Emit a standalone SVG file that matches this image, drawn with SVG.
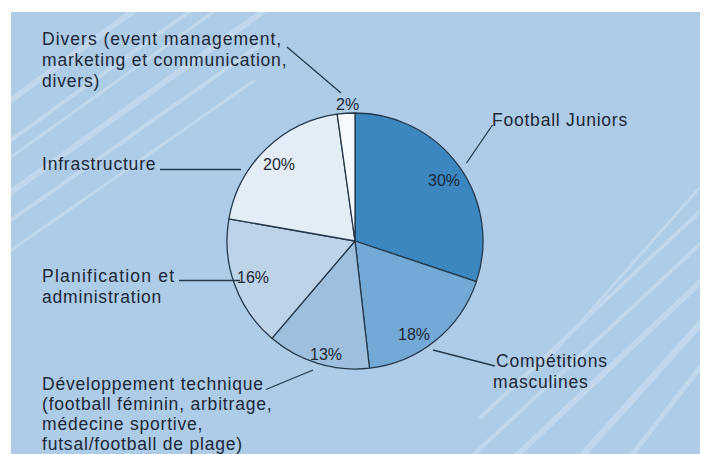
<svg xmlns="http://www.w3.org/2000/svg" width="705" height="454" viewBox="0 0 705 454">
  <style>
    .lbl { font-family: "Liberation Sans", Arial, sans-serif; font-size: 17.5px; fill: #1b2838; letter-spacing: 0.8px; }
    .pct { font-family: "Liberation Sans", Arial, sans-serif; font-size: 16px; fill: #1b2838; }
    .slice { stroke: #25384b; stroke-width: 1.3; stroke-linejoin: round; }
    .lead { stroke: #25384b; stroke-width: 1.3; fill: none; }
    .stripe { stroke: #c6dbef; fill: none; stroke-linecap: butt; }
  </style>
  <defs>
    <clipPath id="panel">
      <rect x="11" y="12" width="689" height="442"/>
    </clipPath>
  </defs>
  <rect x="0" y="0" width="705" height="454" fill="#ffffff"/>
  <g id="background">
    <rect x="11" y="12" width="689" height="442" fill="#aecbe7"/>
    <g clip-path="url(#panel)" opacity="0.75">
      <line class="stripe" x1="0" y1="108" x2="140" y2="6" stroke-width="6"/>
      <line class="stripe" x1="0" y1="148" x2="200" y2="4" stroke-width="4"/>
      <line class="stripe" x1="0" y1="165" x2="230" y2="0" stroke-width="3"/>
      <line class="stripe" x1="0" y1="200" x2="265" y2="10" stroke-width="6"/>
      <line class="stripe" x1="0" y1="228" x2="260" y2="45" stroke-width="4"/>
      <line class="stripe" x1="0" y1="258" x2="255" y2="80" stroke-width="3"/>
      <line class="stripe" x1="540" y1="368" x2="710" y2="176" stroke-width="3"/>
      <line class="stripe" x1="480" y1="418" x2="710" y2="202" stroke-width="4"/>
      <line class="stripe" x1="470" y1="458" x2="710" y2="235" stroke-width="4"/>
      <line class="stripe" x1="512" y1="460" x2="710" y2="273" stroke-width="6"/>
      <line class="stripe" x1="578" y1="460" x2="710" y2="313" stroke-width="7"/>
      <line class="stripe" x1="628" y1="460" x2="710" y2="355" stroke-width="5"/>
    </g>
  </g>
  <g id="pie">
    <g id="slice-football-juniors">
      <path class="slice" fill="#3d87c1" d="M355,241 L355,113 A128,128 0 0 1 476.4,281.6 Z"/>
      <text class="pct" x="428" y="186">30%</text>
    </g>
    <g id="slice-competitions">
      <path class="slice" fill="#73a9d4" d="M355,241 L476.4,281.6 A128,128 0 0 1 369.5,368.2 Z"/>
      <text class="pct" x="398" y="340">18%</text>
    </g>
    <g id="slice-developpement">
      <path class="slice" fill="#9ec0de" d="M355,241 L369.5,368.2 A128,128 0 0 1 271.9,338.3 Z"/>
      <text class="pct" x="310" y="360">13%</text>
    </g>
    <g id="slice-planification">
      <path class="slice" fill="#bdd3e8" d="M355,241 L271.9,338.3 A128,128 0 0 1 228.9,218.8 Z"/>
      <text class="pct" x="237" y="283">16%</text>
    </g>
    <g id="slice-infrastructure">
      <path class="slice" fill="#e3edf6" d="M355,241 L228.9,218.8 A128,128 0 0 1 337.2,114.2 Z"/>
      <text class="pct" x="263" y="170">20%</text>
    </g>
    <g id="slice-divers">
      <path class="slice" fill="#f7fafd" d="M355,241 L337.2,114.2 A128,128 0 0 1 355,113 Z"/>
      <text class="pct" x="336" y="110">2%</text>
    </g>
  </g>
  <g id="connectors">
    <line class="lead" x1="287" y1="47" x2="341" y2="93"/>
    <line class="lead" x1="160" y1="169.5" x2="241" y2="169.5"/>
    <line class="lead" x1="492.5" y1="125" x2="466.5" y2="163"/>
    <line class="lead" x1="179" y1="280.5" x2="240" y2="280.5"/>
    <line class="lead" x1="266" y1="389.5" x2="313" y2="370"/>
    <line class="lead" x1="433" y1="350" x2="495" y2="366"/>
  </g>
  <g id="label-divers">
    <text class="lbl" x="42" y="45" textLength="240" lengthAdjust="spacing">Divers (event management,</text>
    <text class="lbl" x="42" y="65.5">marketing et communication,</text>
    <text class="lbl" x="42" y="86.5">divers)</text>
  </g>
  <g id="label-infrastructure">
    <text class="lbl" x="42" y="170">Infrastructure</text>
  </g>
  <g id="label-planification">
    <text class="lbl" x="42" y="282" textLength="133" lengthAdjust="spacing">Planification et</text>
    <text class="lbl" x="42" y="302.5">administration</text>
  </g>
  <g id="label-developpement">
    <text class="lbl" x="42" y="389.5">Développement technique</text>
    <text class="lbl" x="42" y="409.5">(football féminin, arbitrage,</text>
    <text class="lbl" x="42" y="429.5">médecine sportive,</text>
    <text class="lbl" x="42" y="449.5">futsal/football de plage)</text>
  </g>
  <g id="label-football-juniors">
    <text class="lbl" x="492" y="126" textLength="136" lengthAdjust="spacing">Football Juniors</text>
  </g>
  <g id="label-competitions">
    <text class="lbl" x="496" y="367">Compétitions</text>
    <text class="lbl" x="493" y="388">masculines</text>
  </g>
</svg>
